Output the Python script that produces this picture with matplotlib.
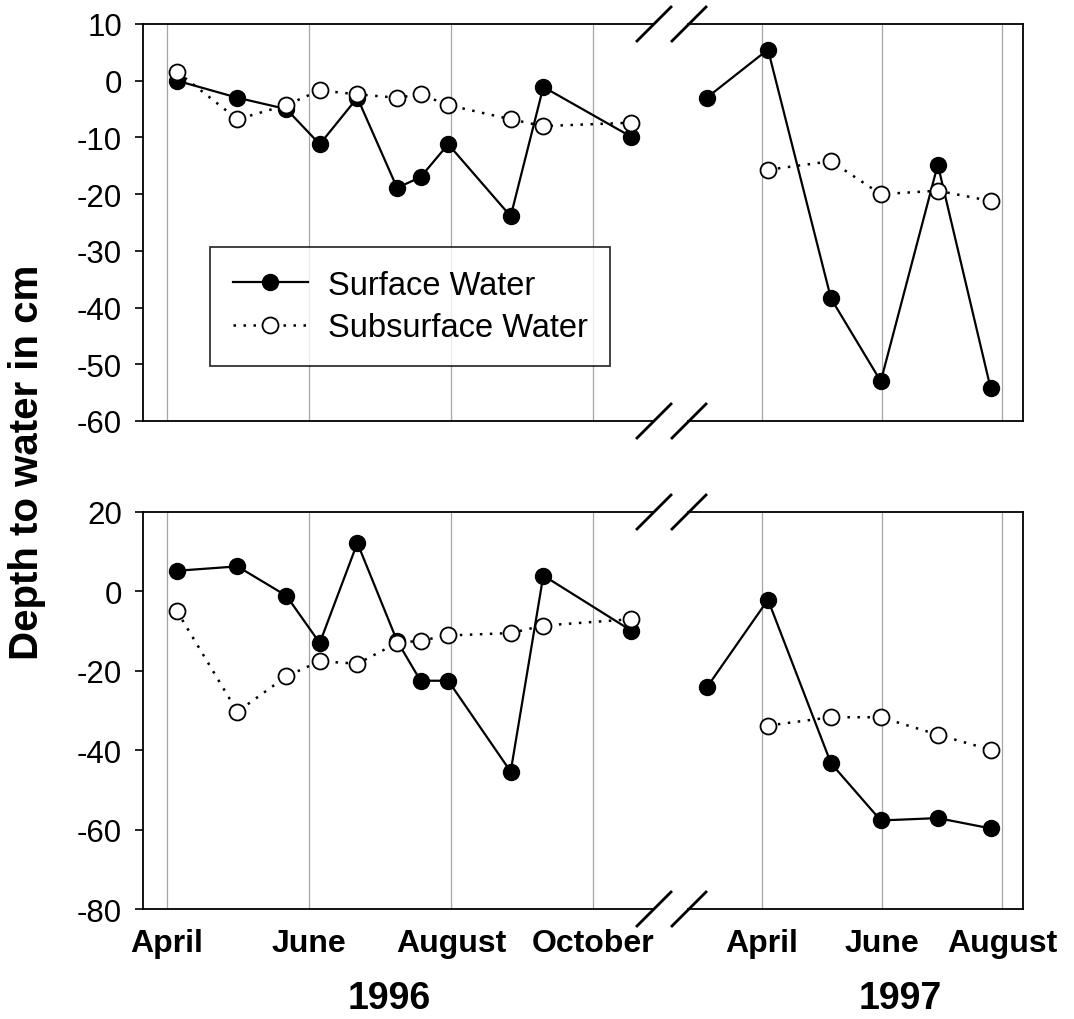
import numpy as np
import matplotlib
matplotlib.use("Agg")
import matplotlib.pyplot as plt
from matplotlib.lines import Line2D

plt.rcParams['font.family'] = ['Liberation Sans', 'DejaVu Sans']
plt.rcParams['axes.unicode_minus'] = False

# sampling dates as decimal month (April = 4.0)
months_1996 = [4.14, 4.99, 5.68, 6.15, 6.68, 7.24, 7.57, 7.96, 8.84, 9.30, 10.54]
months_1997 = [3.08, 4.10, 5.15, 5.98, 6.93, 7.81]

# top panel
top_surf_96 = [0.0, -3.0, -5.0, -11.2, -3.0, -18.9, -17.0, -11.2, -23.9, -1.1, -9.9]
top_sub_96 = [1.6, -6.8, -4.3, -1.7, -2.4, -3.0, -2.4, -4.3, -6.8, -8.0, -7.4]
top_surf_97 = [-3.0, 5.5, -38.4, -53.0, -14.8, -54.2]
top_sub_97 = [np.nan, -15.7, -14.2, -20.0, -19.4, -21.2]

# bottom panel
bot_surf_96 = [5.2, 6.3, -1.1, -13.0, 12.2, -12.5, -22.5, -22.5, -45.4, 4.0, -9.9]
bot_sub_96 = [-5.0, -30.3, -21.4, -17.6, -18.2, -13.0, -12.4, -11.1, -10.5, -8.6, -7.0]
bot_surf_97 = [-24.2, -2.1, -43.3, -57.7, -57.1, -59.7]
bot_sub_97 = [np.nan, -33.8, -31.7, -31.7, -36.1, -39.9]

ticks_96 = [4, 6, 8, 10]
labels_96 = ['April', 'June', 'August', 'October']
ticks_97 = [4, 6, 8]
labels_97 = ['April', 'June', 'August']

W, H = 1074, 1020
fig = plt.figure(figsize=(W / 100, H / 100), dpi=100)


def px_rect(x0, y0, x1, y1):
    return [x0 / W, 1 - y1 / H, (x1 - x0) / W, (y1 - y0) / H]


def style(ax, ticks, labels, xlim, ylim, yt, left, show_x):
    ax.set_xlim(*xlim)
    ax.set_ylim(*ylim)
    ax.set_xticks(ticks)
    if show_x:
        ax.set_xticklabels(labels, fontsize=23, fontweight='bold')
    else:
        ax.set_xticklabels([])
    ax.tick_params(axis='x', length=0, pad=14)
    for t in ticks:
        ax.axvline(t, color='0.65', lw=0.9, zorder=0)
    for s in ax.spines.values():
        s.set_linewidth(1.3)
    if left:
        ax.spines['right'].set_visible(False)
        ax.set_yticks(yt)
        ax.tick_params(axis='y', direction='out', length=6, width=1.2,
                       labelsize=22.5, pad=9)
    else:
        ax.spines['left'].set_visible(False)
        ax.set_yticks([])


def draw(ax, x, surf, sub):
    ax.plot(x, surf, '-', color='black', lw=1.6, marker='o', ms=11.5,
            mfc='black', mec='black', label='Surface Water', zorder=3)
    ax.plot(x, sub, linestyle=(0, (1, 3)), color='black', lw=1.8, marker='o',
            ms=11.5, mfc='white', mec='black', mew=1.3,
            label='Subsurface Water', zorder=4)


rows = [(25, 422, (-60, 10), np.arange(-60, 11, 10), False,
         top_surf_96, top_sub_96, top_surf_97, top_sub_97),
        (513, 910, (-80, 20), np.arange(-80, 21, 20), True,
         bot_surf_96, bot_sub_96, bot_surf_97, bot_sub_97)]

axes = []
for y0, y1, ylim, yt, show_x, s96, u96, s97, u97 in rows:
    axl = fig.add_axes(px_rect(143, y0, 653, y1))
    axr = fig.add_axes(px_rect(688, y0, 1023, y1))
    style(axl, ticks_96, labels_96, (3.66, 10.845), ylim, yt, True, show_x)
    style(axr, ticks_97, labels_97, (2.767, 8.35), ylim, yt, False, show_x)
    draw(axl, months_1996, s96, u96)
    draw(axr, months_1997, s97, u97)
    axes.append(axl)
    # break marks
    for xc in (654, 689):
        for yc in (y0, y1):
            fig.add_artist(Line2D([(xc - 17) / W, (xc + 17) / W],
                                  [1 - (yc + 17) / H, 1 - (yc - 17) / H],
                                  color='black', lw=2.0))

leg = axes[0].legend(loc='upper left', bbox_to_anchor=(210 / W, 1 - 248 / H),
                     bbox_transform=fig.transFigure, fontsize=23.5,
                     frameon=True, fancybox=False, edgecolor='black',
                     handlelength=2.3, handletextpad=0.6, borderpad=0.7,
                     labelspacing=0.35, borderaxespad=0)
leg.get_frame().set_linewidth(1.3)

fig.text(27 / W, 1 - 462 / H, 'Depth to water in cm', rotation=90,
         fontsize=29, fontweight='bold', ha='center', va='center')
fig.text(389 / W, 1 - 999 / H, '1996', fontsize=27, fontweight='bold',
         ha='center', va='center')
fig.text(900 / W, 1 - 999 / H, '1997', fontsize=27, fontweight='bold',
         ha='center', va='center')

fig.savefig('out.png', dpi=100)
